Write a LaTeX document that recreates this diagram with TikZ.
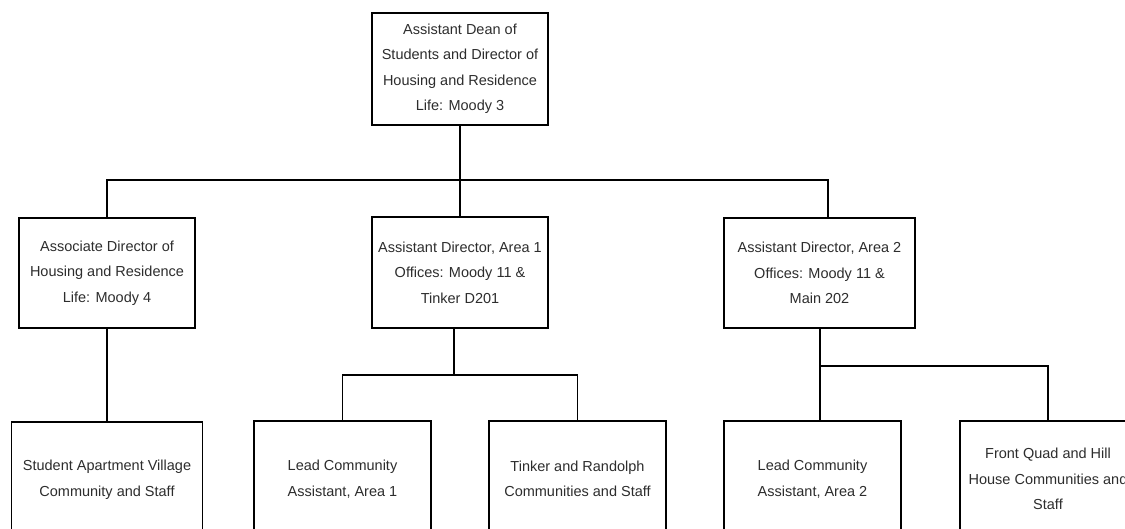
\documentclass[tikz,border=0pt]{standalone}
\usepackage{fontspec}
\setmainfont{Liberation Sans}
\definecolor{txt}{RGB}{45,45,45}
\begin{document}
\begin{tikzpicture}[x=1pt,y=-1pt,
  box/.style={draw=black,line width=1.4pt,fill=white,inner sep=0pt,align=center,
    text=txt,font=\fontsize{14.5}{25.5}\selectfont},
  link/.style={draw=black,line width=1.4pt}]
\useasboundingbox (0,0) rectangle (1125,529);
\clip (0,0) rectangle (1125,529);
\fill[white] (0,0) rectangle (1125,529);
% level 0
\node[box,minimum width=176pt,minimum height=112pt] (top) at (460,69)
  {Assistant Dean of\\Students and Director of\\Housing and Residence\\Life: Moody 3};
% level 1
\node[box,minimum width=176pt,minimum height=110pt] (A) at (107,273)
  {Associate Director of\\Housing and Residence\\Life: Moody 4};
\node[box,minimum width=176pt,minimum height=111pt] (B) at (460,272.5)
  {Assistant Director, Area 1\\Offices: Moody 11 \&\\Tinker D201};
\node[box,minimum width=191pt,minimum height=110pt] (C) at (819.5,273)
  {Assistant Director, Area 2\\Offices: Moody 11 \&\\Main 202};
% level 2
\node[box,minimum width=191pt,minimum height=116pt] (D) at (107,480)
  {Student Apartment Village\\Community and Staff};
\node[box,minimum width=177pt,minimum height=116pt] (E) at (342.5,479)
  {Lead Community\\Assistant, Area 1};
\node[box,minimum width=177pt,minimum height=116pt] (F) at (577.5,479)
  {Tinker and Randolph\\Communities and Staff};
\node[box,minimum width=177pt,minimum height=116pt] (G) at (812.5,479)
  {Lead Community\\Assistant, Area 2};
\node[box,minimum width=176pt,minimum height=116pt] (H) at (1048,479)
  {Front Quad and Hill\\House Communities and\\Staff};
% buses
\coordinate (bus1) at (460,180);
\coordinate (bus2) at (454,375);
\coordinate (bus3) at (820,366);
% connectors
\draw[link] (top.south) -- (bus1);
\draw[link] (A.north) |- (bus1) -| ([xshift=8.5pt]C.north);
\draw[link] (bus1) -- (B.north);
\draw[link] (A.south) -- (D.north);
\draw[link] ([xshift=-6pt]B.south) -- (bus2);
\draw[link] (E.north) |- (bus2) -| (F.north);
\draw[link] ([xshift=0.5pt]C.south) -- ([xshift=7.5pt]G.north);
\draw[link] (bus3) -| (H.north);
\end{tikzpicture}
\end{document}
